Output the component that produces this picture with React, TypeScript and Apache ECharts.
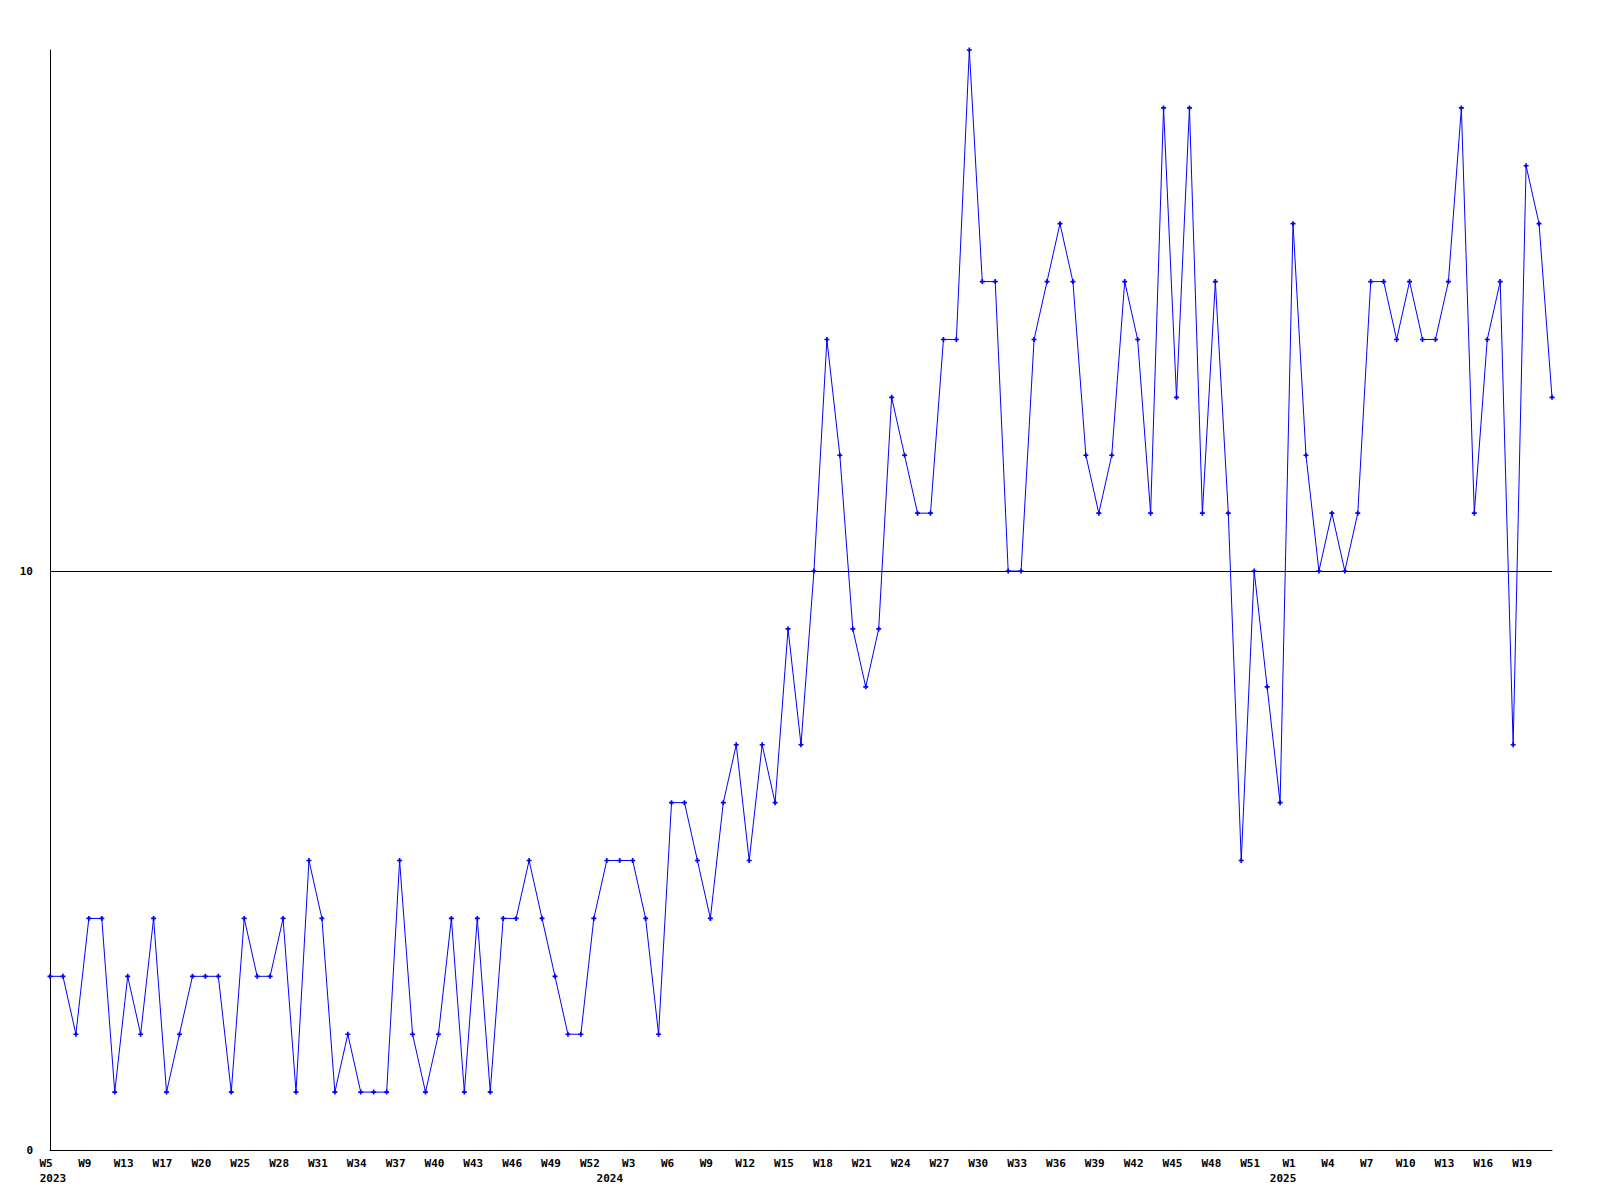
import React, { useEffect, useRef } from "react";
import * as echarts from "echarts";

// Weekly values, one per point (W5 2023 ... W21 2025)
const values: number[] = [
  3, 3, 2, 4, 4, 1, 3, 2, 4, 1,
  2, 3, 3, 3, 1, 4, 3, 3, 4, 1,
  5, 4, 1, 2, 1, 1, 1, 5, 2, 1,
  2, 4, 1, 4, 1, 4, 4, 5, 4, 3,
  2, 2, 4, 5, 5, 5, 4, 2, 6, 6,
  5, 4, 6, 7, 5, 7, 6, 9, 7, 10,
  14, 12, 9, 8, 9, 13, 12, 11, 11, 14,
  14, 19, 15, 15, 10, 10, 14, 15, 16, 15,
  12, 11, 12, 15, 14, 11, 18, 13, 18, 11,
  15, 11, 5, 10, 8, 6, 16, 12, 10, 11,
  10, 11, 15, 15, 14, 15, 14, 14, 15, 18,
  11, 14, 15, 7, 17, 16, 13,
];

const categories: string[] = values.map((_, i) => String(i));

// Tick labels shown every 3rd point
const tickEvery = 3;
const tickLabels: string[] = [
  "W5", "W9", "W13", "W17", "W20", "W25", "W28", "W31", "W34", "W37",
  "W40", "W43", "W46", "W49", "W52", "W3", "W6", "W9", "W12", "W15",
  "W18", "W21", "W24", "W27", "W30", "W33", "W36", "W39", "W42", "W45",
  "W48", "W51", "W1", "W4", "W7", "W10", "W13", "W16", "W19",
];

const yearLabels: string[] = ["2023", "2024", "2025"];
const yearIndex: number[] = [0, 43, 95];

const refLine = 10;
const yMax = 19;

const FONT = "'DejaVu Sans Mono', 'Liberation Mono', monospace";

export default function App() {
  const ref = useRef<HTMLDivElement>(null);

  useEffect(() => {
    if (!ref.current) return;
    const chart = echarts.init(ref.current, null, { renderer: "svg" });
    chart.setOption({
      animation: false,
      backgroundColor: "#ffffff",
      grid: { left: 50, right: 48, top: 50, bottom: 50, containLabel: false },
      xAxis: [
        {
          type: "category",
          data: categories,
          boundaryGap: false,
          axisLine: { show: true, lineStyle: { color: "#000", width: 1 } },
          axisTick: { show: false },
          splitLine: { show: false },
          axisLabel: {
            interval: (i: number) => i % tickEvery === 0,
            formatter: (_v: string, i: number) =>
              i % tickEvery === 0 ? tickLabels[i / tickEvery] ?? "" : "",
            fontFamily: FONT,
            fontSize: 11,
            fontWeight: "bold",
            color: "#000",
            margin: 8,
            padding: [0, 8, 0, 0],
          },
        },
        {
          type: "category",
          data: categories,
          boundaryGap: false,
          position: "bottom",
          offset: 15,
          axisLine: { show: false },
          axisTick: { show: false },
          splitLine: { show: false },
          axisLabel: {
            interval: (i: number) => yearIndex.includes(i),
            formatter: (_v: string, i: number) => {
              const k = yearIndex.indexOf(i);
              return k >= 0 ? yearLabels[k] : "";
            },
            fontFamily: FONT,
            fontSize: 11,
            fontWeight: "bold",
            color: "#000",
            margin: 8,
            padding: [0, 0, 0, 6],
          },
        },
      ],
      yAxis: {
        type: "value",
        min: 0,
        max: yMax,
        interval: 10,
        axisLine: { show: true, lineStyle: { color: "#000", width: 1 } },
        axisTick: { show: false },
        splitLine: { show: false },
        axisLabel: {
          showMaxLabel: false,
          formatter: (v: number) => (v === yMax ? "" : String(v)),
          fontFamily: FONT,
          fontSize: 11,
          fontWeight: "bold",
          color: "#000",
          margin: 17,
        },
      },
      series: [
        {
          type: "line",
          data: values,
          xAxisIndex: 0,
          symbol: "path://M1,0H2V1H3V2H2V3H1V2H0V1H1Z",
          symbolSize: 5,
          showSymbol: true,
          itemStyle: { color: "#0000ff" },
          lineStyle: { color: "#0000ff", width: 1 },
          z: 3,
          markLine: {
            silent: true,
            symbol: "none",
            label: { show: false },
            lineStyle: { color: "#000", width: 1, type: "solid" },
            data: [{ yAxis: refLine }],
            z: 1,
          },
        },
      ],
    });
    return () => chart.dispose();
  }, []);

  return (
    <div
      ref={ref}
      style={{ position: "fixed", left: 0, top: 0, width: 1600, height: 1200 }}
    />
  );
}
